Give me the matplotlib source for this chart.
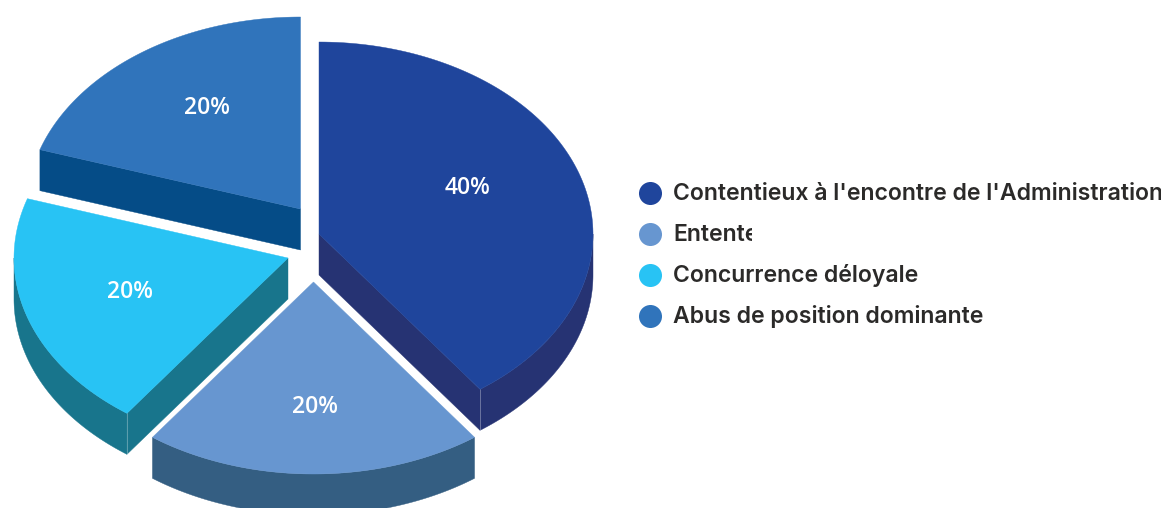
import matplotlib
matplotlib.use('Agg')
import matplotlib.pyplot as plt
from matplotlib.patches import Polygon, Rectangle
import numpy as np

# chart data
categories = ["Contentieux à l'encontre de l'Administration", "Entente",
              "Concurrence déloyale", "Abus de position dominante"]
values = [40, 20, 20, 20]

# looks
top_colors = ['#1F459C', '#6796D0', '#28C3F4', '#3074BB']
side_colors = ['#263373', '#345E82', '#18758C', '#054C87']
apexes = [(319, 234), (313.5, 282), (288, 258), (300.5, 209)]
label_pos = [(468, 188), (315, 407), (130, 292), (207, 108)]
legend_y = [193, 234, 274.5, 315.5]
legend_clip = [1161, 752, 924, 984]
rx, ry, depth = 274, 192, 41


def rim(cx, cy, a0, a1):
    t = np.radians(np.linspace(a0, a1, 120))
    return np.column_stack([cx + rx * np.sin(t), cy - ry * np.cos(t)])


fig = plt.figure(figsize=(11.65, 5.08), dpi=100)
ax = fig.add_axes([0, 0, 1, 1])
ax.set_xlim(0, 1165)
ax.set_ylim(508, 0)
ax.axis('off')

edges = np.concatenate([[0], np.cumsum(values)]) / sum(values) * 360

for i in range(len(values)):
    a0, a1 = edges[i], edges[i + 1]
    cx, cy = apexes[i]
    arc = rim(cx, cy, a0, a1)
    down = np.array([0, depth])

    # cut faces facing the viewer
    for a in (a0, a1):
        end = rim(cx, cy, a, a)[0]
        if (a == a0 and np.sin(np.radians(a)) < 0) or (a == a1 and np.sin(np.radians(a)) > 0):
            face = [(cx, cy), end, end + down, (cx, cy + depth)]
            ax.add_patch(Polygon(face, fc=side_colors[i], ec=side_colors[i], lw=0.3, zorder=1))
            # pale seam on the front corner
            if 90 < a < 270:
                ax.plot([end[0], end[0]], [end[1], end[1] + depth], color='white', alpha=0.35,
                        lw=0.6, zorder=1.5)

    # outer wall, only the front half of the ellipse
    lo, hi = max(a0, 90), min(a1, 270)
    if hi > lo:
        wall = rim(cx, cy, lo, hi)
        ax.add_patch(Polygon(np.vstack([wall, wall[::-1] + down]), fc=side_colors[i],
                             ec=side_colors[i], lw=0.3, zorder=1))

    ax.add_patch(Polygon(np.vstack([[(cx, cy)], arc]), fc=top_colors[i], ec=top_colors[i],
                         lw=0.3, zorder=2))
    ax.text(label_pos[i][0], label_pos[i][1], '%d%%' % values[i], color='white', fontsize=16.5,
            family='Open Sans', weight='semibold', ha='center', va='center', zorder=3)

# legend
for i, name in enumerate(categories):
    y = legend_y[i]
    ax.scatter([650], [y], s=275, color=top_colors[i], linewidths=0, zorder=3)
    txt = ax.text(673, y + 1, name, color='#2B2A29', fontsize=16.6, family='Inter', weight='semibold',
                  ha='left', va='center', zorder=3, clip_on=True)
    txt.set_clip_path(Rectangle((673, y - 20), legend_clip[i] - 673, 40, transform=ax.transData))

fig.savefig('out.png', dpi=100)
